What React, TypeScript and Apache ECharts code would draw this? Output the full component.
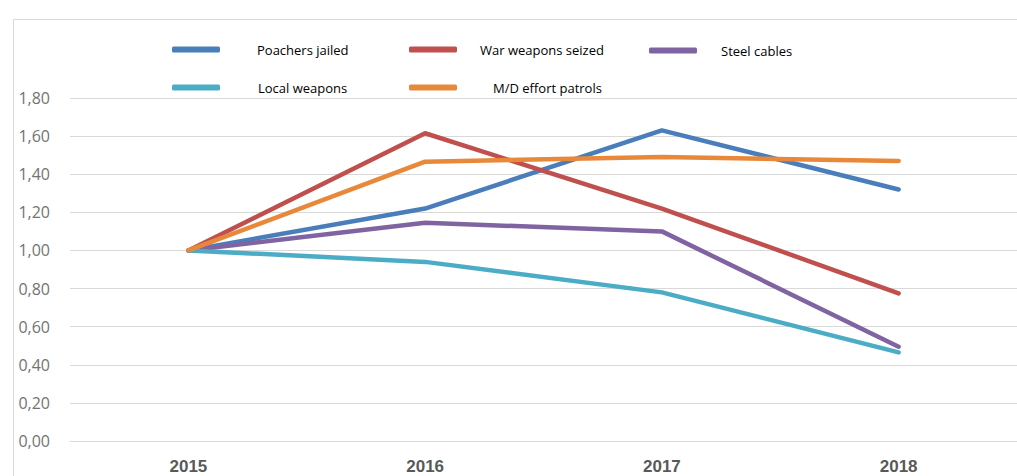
import React, { useEffect, useRef } from "react";
import * as echarts from "echarts";

const years = ["2015", "2016", "2017", "2018"];
const seriesNames = ["Poachers jailed", "War weapons seized", "Steel cables", "Local weapons", "M/D effort patrols"];
const poachersJailed = [1.0, 1.22, 1.63, 1.32];
const warWeaponsSeized = [1.0, 1.615, 1.22, 0.775];
const steelCables = [1.0, 1.145, 1.1, 0.495];
const localWeapons = [1.0, 0.94, 0.78, 0.465];
const mdEffortPatrols = [1.0, 1.466, 1.49, 1.47];
const colors = ["#4A7EBB", "#C0504D", "#8064A2", "#4BACC6", "#E8883A"];
const yTicks = { min: 0, max: 1.8, interval: 0.2 };

export default function App() {
  const ref = useRef<HTMLDivElement>(null);
  useEffect(() => {
    if (!ref.current) return;
    const chart = echarts.init(ref.current, null, { renderer: "svg" });
    const values = [poachersJailed, warWeaponsSeized, steelCables, localWeapons, mdEffortPatrols];
    const legendPos = [
      { left: 172, top: 43, pad: 37 },
      { left: 409, top: 43, pad: 23 },
      { left: 649, top: 44, pad: 24 },
      { left: 172, top: 81, pad: 38 },
      { left: 409, top: 81, pad: 36 },
    ];
    chart.setOption({
      animation: false,
      backgroundColor: "#ffffff",
      graphic: [
        {
          type: "rect",
          left: 11,
          top: 17,
          shape: { width: 1100, height: 600 },
          style: { fill: "none", stroke: "#d9d9d9", lineWidth: 1 },
          silent: true,
        },
      ],
      legend: seriesNames.map((n, i) => ({
        left: legendPos[i].left,
        top: legendPos[i].top,
        data: [n],
        icon: "roundRect",
        itemWidth: 48,
        itemHeight: 6,
        padding: 0,
        textStyle: {
          fontFamily: "Open Sans, Liberation Sans, Arial, sans-serif",
          fontSize: 13,
          color: "#000",
          padding: [0, 0, 0, legendPos[i].pad - 5],
        },
      })),
      grid: { left: 70, top: 98, height: 343, width: 952 },
      xAxis: {
        type: "category",
        data: years,
        boundaryGap: true,
        axisLine: { lineStyle: { color: "#d9d9d9" } },
        axisTick: { show: false },
        axisLabel: {
          margin: 17,
          fontFamily: "Liberation Sans, Arial, sans-serif",
          fontSize: 17,
          fontWeight: "bold",
          color: "#595959",
        },
      },
      yAxis: {
        type: "value",
        min: yTicks.min,
        max: yTicks.max,
        interval: yTicks.interval,
        axisLine: { show: false },
        axisTick: { show: false },
        splitLine: { lineStyle: { color: "#d9d9d9", width: 1 } },
        axisLabel: {
          margin: 20,
          fontFamily: "Open Sans, Liberation Sans, Arial, sans-serif",
          fontSize: 16,
          color: "#737373",
          formatter: (v: number) => v.toFixed(2).replace(".", ","),
        },
      },
      series: seriesNames.map((n, i) => ({
        name: n,
        type: "line",
        data: values[i],
        color: colors[i],
        symbol: "none",
        lineStyle: { width: 4.5, color: colors[i], cap: "round", join: "round" },
      })),
    });
    return () => chart.dispose();
  }, []);
  return (
    <div
      ref={ref}
      style={{ position: "fixed", left: 0, top: 0, width: 1017, height: 476 }}
    />
  );
}
